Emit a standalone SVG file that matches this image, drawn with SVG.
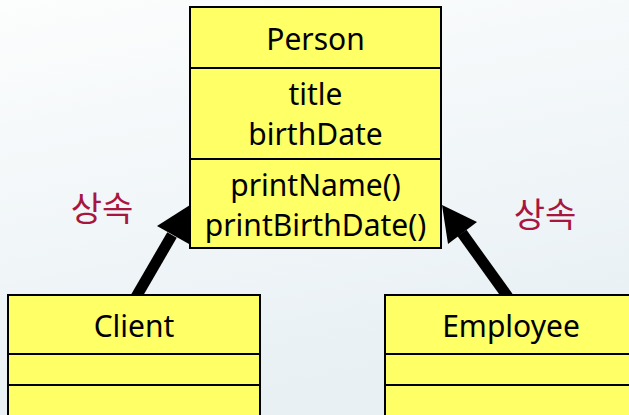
<svg xmlns="http://www.w3.org/2000/svg" width="629" height="415" viewBox="0 0 629 415">
  <defs>
    <linearGradient id="bg" x1="0" y1="0" x2="0.3" y2="1">
      <stop offset="0" stop-color="#fcfdfd"/>
      <stop offset="1" stop-color="#e8f0f4"/>
    </linearGradient>
    <style>
      .box { fill: #ffff66; stroke: #000; stroke-width: 2; }
      .div { stroke: #000; stroke-width: 2; }
      .t { font-family: "Noto Sans", "Open Sans", sans-serif; font-size: 30px; fill: #000; text-anchor: middle; }
      .lbl { font-family: "Noto Sans CJK KR", sans-serif; font-size: 34px; fill: #a8163f; text-anchor: middle; }
      .shaft { stroke: #000; stroke-width: 11; fill: none; }
      .head { fill: #000; }
    </style>
  </defs>

  <rect x="0" y="0" width="629" height="415" fill="url(#bg)"/>

  <!-- inheritance arrows -->
  <g id="connectors">
    <line class="shaft" x1="136" y1="297" x2="172" y2="235"/>
    <polygon class="head" points="190,205 157,226 189,244"/>
    <line class="shaft" x1="508" y1="297" x2="462" y2="233"/>
    <polygon class="head" points="442,205 477,222 448,244"/>
  </g>

  <text class="lbl" x="102" y="221">상속</text>
  <text class="lbl" x="545" y="227">상속</text>

  <g id="person">
    <rect class="box" x="190" y="7" width="251" height="241"/>
    <line class="div" x1="190" y1="68" x2="441" y2="68"/>
    <line class="div" x1="190" y1="159" x2="441" y2="159"/>
    <text class="t" x="315.5" y="50">Person</text>
    <text class="t" x="315.5" y="105">title</text>
    <text class="t" x="315.5" y="145">birthDate</text>
    <text class="t" x="315.5" y="196">printName()</text>
    <text class="t" x="315.5" y="236">printBirthDate()</text>
  </g>

  <g id="client">
    <rect class="box" x="8" y="295" width="252" height="130"/>
    <line class="div" x1="8" y1="354" x2="260" y2="354"/>
    <line class="div" x1="8" y1="385" x2="260" y2="385"/>
    <text class="t" x="134" y="337">Client</text>
  </g>

  <g id="employee">
    <rect class="box" x="385" y="295" width="260" height="130"/>
    <line class="div" x1="385" y1="354" x2="645" y2="354"/>
    <line class="div" x1="385" y1="385" x2="645" y2="385"/>
    <text class="t" x="511" y="337">Employee</text>
  </g>
</svg>
